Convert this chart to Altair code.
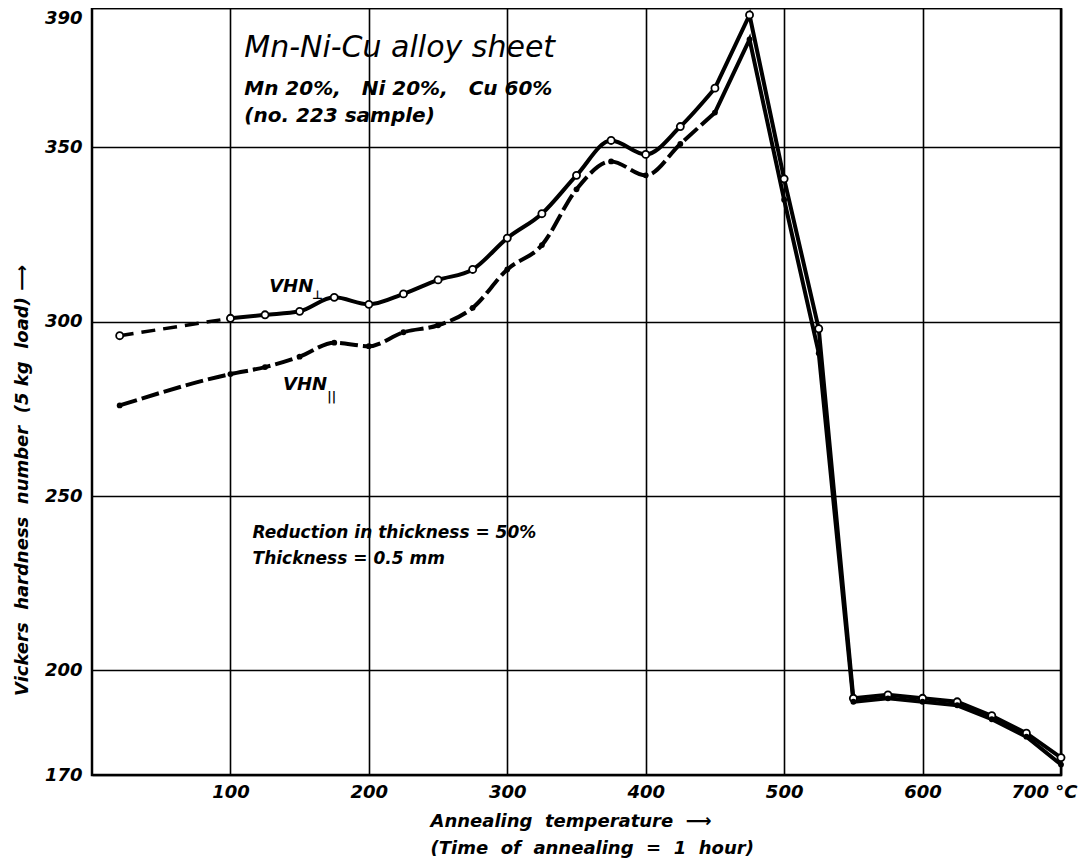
import altair as alt
import pandas as pd

# ---- data ----
temps = [20, 100, 125, 150, 175, 200, 225, 250, 275, 300, 325, 350, 375,
         400, 425, 450, 475, 500, 525, 550, 575, 600, 625, 650, 675, 700]
vhn_perp = [296, 301, 302, 303, 307, 305, 308, 312, 315, 324, 331, 342, 352,
            348, 356, 367, 388, 341, 298, 192, 193, 192, 191, 187, 182, 175]
vhn_par = [276, 285, 287, 290, 294, 293, 297, 299, 304, 315, 322, 338, 346,
           342, 351, 360, 381, 335, 291, 191, 192, 191, 190, 186, 181, 173]

x_ticks = [100, 200, 300, 400, 500, 600, 700]
y_ticks = [170, 200, 250, 300, 350, 390]

NB = "\u00a0"

title_main = ["Mn-Ni-Cu alloy sheet"]
title_sub = ["Mn 20%," + NB + NB + NB + "Ni 20%," + NB + NB + NB + "Cu 60%", "(no. 223 sample)"]
note_lines = ["Reduction" + NB + "in" + NB + "thickness" + NB + "=" + NB + "50%",
              "Thickness" + NB + "=" + NB + "0.5" + NB + "mm"]

# annotation positions in data units
main_pos = [(110, 376)]
sub_pos = [(110, 365), (110, 357.4)]
note_pos = [(116, 238), (116, 230.4)]
vhn_pos = [(128, 308.6), (138, 280.5)]
vhn_sub = ["⊥", "||"]
vhn_sub_pos = [(159, 306.5), (170, 277.4)]

FONT = "DejaVu Sans"


def seg(vals, lo, hi):
    return pd.DataFrame({
        "t": [t for t in temps if lo <= t <= hi],
        "v": [v for t, v in zip(temps, vals) if lo <= t <= hi],
    })


xs = alt.Scale(domain=[0, 700], nice=False, zero=False)
ys = alt.Scale(domain=[170, 390], nice=False, zero=False)

X = alt.X("t:Q", scale=xs, axis=alt.Axis(
    values=x_ticks,
    grid=True, gridColor="black", gridWidth=1.6, gridOpacity=1,
    domain=False, ticks=False, labelFlush=False,
    labelFont=FONT, labelFontSize=18, labelFontStyle="italic", labelFontWeight="bold",
    labelColor="black", labelPadding=8,
    labelExpr="datum.value == 700 ? '700 °C' : datum.label",
    labelOffset=alt.condition("datum.value == 700", alt.value(-17), alt.value(0)),
    title=["Annealing" + NB + NB + "temperature" + NB + NB + "⟶",
           NB + NB + "(Time" + NB + NB + "of" + NB + NB + "annealing" + NB + NB + "=" + NB + NB + "1" + NB + NB + "hour)"],
    titleFont=FONT, titleFontSize=18, titleFontStyle="italic", titleFontWeight="bold",
    titleColor="black", titleAlign="left", titleBaseline="top",
    titleX=338, titleY=37, titleLineHeight=27,
))
Y = alt.Y("v:Q", scale=ys, axis=alt.Axis(
    values=y_ticks,
    grid=True, gridColor="black", gridWidth=1.6, gridOpacity=1,
    domain=False, ticks=False,
    labelFont=FONT, labelFontSize=18, labelFontStyle="italic", labelFontWeight="bold",
    labelColor="black", labelPadding=10,
    labelBaseline=alt.condition("datum.value == 390", alt.value("top"), alt.value("middle")),
    labelOffset=alt.condition("datum.value == 390", alt.value(1), alt.value(0)),
    title="Vickers" + NB + NB + "hardness" + NB + NB + "number" + NB + NB + "(5" + NB + "kg" + NB + NB + "load)" + NB + "⟶",
    titleFont=FONT, titleFontSize=18, titleFontStyle="italic", titleFontWeight="bold",
    titleColor="black", titleAlign="center", titleBaseline="middle",
    titleX=-70, titleY=472, titleAngle=270,
))

perp_dash = alt.Chart(seg(vhn_perp, 20, 100)).mark_line(
    color="black", strokeWidth=3.5, strokeDash=[14, 8]).encode(x=X, y=Y)
perp_curve = alt.Chart(seg(vhn_perp, 100, 450)).mark_line(
    color="black", strokeWidth=4, interpolate="monotone").encode(x=X, y=Y)
perp_sharp = alt.Chart(seg(vhn_perp, 450, 700)).mark_line(
    color="black", strokeWidth=4).encode(x=X, y=Y)

par_dash = alt.Chart(seg(vhn_par, 20, 450)).mark_line(
    color="black", strokeWidth=4, strokeDash=[18, 5], interpolate="monotone").encode(x=X, y=Y)
par_sharp = alt.Chart(seg(vhn_par, 450, 700)).mark_line(
    color="black", strokeWidth=4).encode(x=X, y=Y)

perp_pts = alt.Chart(seg(vhn_perp, 0, 700)).mark_point(
    shape="circle", filled=True, fill="white", stroke="black", strokeWidth=1.8,
    size=50, opacity=1).encode(x=X, y=Y)
par_pts = alt.Chart(seg(vhn_par, 0, 700)).mark_circle(
    color="black", size=34, opacity=1).encode(x=X, y=Y)


def text_layer(lines, pos, **kw):
    df = pd.DataFrame({"t": [p[0] for p in pos], "v": [p[1] for p in pos], "label": lines})
    return alt.Chart(df).mark_text(align="left", baseline="alphabetic", color="black",
                                   font=FONT, **kw).encode(x=X, y=Y, text="label:N")


t_main = text_layer(title_main, main_pos, fontSize=30, fontStyle="italic")
t_sub = text_layer(title_sub, sub_pos, fontSize=20, fontStyle="italic", fontWeight="bold")
t_note = text_layer(note_lines, note_pos, fontSize=17, fontStyle="italic", fontWeight="bold")
t_vhn = text_layer(["VHN", "VHN"], vhn_pos, fontSize=18, fontStyle="italic", fontWeight="bold")
t_vhn_sub = text_layer(vhn_sub, vhn_sub_pos, fontSize=12, fontWeight="bold")

chart = alt.layer(
    perp_dash, perp_curve, perp_sharp, par_dash, par_sharp,
    perp_pts, par_pts, t_main, t_sub, t_note, t_vhn, t_vhn_sub,
).properties(
    width=969, height=767,
    autosize=alt.AutoSizeParams(type="none"),
    padding={"left": 84, "top": 0, "right": 21, "bottom": 85},
    background="white",
).configure_view(
    stroke="black", strokeWidth=2.5,
)

chart.save("out.html", embed_options={"renderer": "svg", "actions": False})
